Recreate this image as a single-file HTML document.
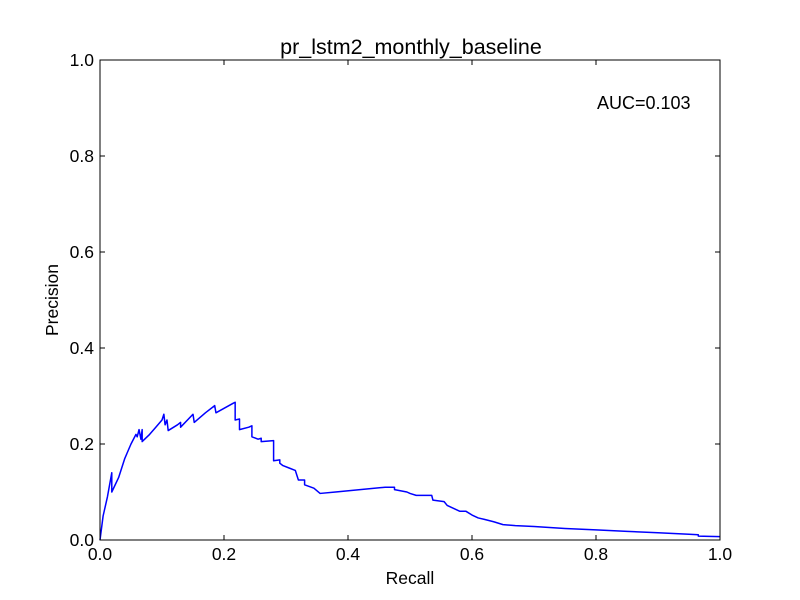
<!DOCTYPE html>
<html><head><meta charset="utf-8"><style>body{margin:0;background:#fff}svg{display:block}text{font-family:"Liberation Sans",sans-serif}</style></head>
<body>
<svg id="chart" width="800" height="600" xmlns="http://www.w3.org/2000/svg">
<rect width="800" height="600" fill="#fff"/>
<text x="411" y="54" font-size="21.5" text-anchor="middle">pr_lstm2_monthly_baseline</text>
<g id="axes"></g>
<text x="410" y="584" font-size="17.5" text-anchor="middle">Recall</text>
<text x="58" y="300" font-size="17.5" text-anchor="middle" transform="rotate(-90 58 300)">Precision</text>
<text x="597" y="109" font-size="18">AUC=0.103</text>
</svg>
<script>
const recall=[0,0.005,0.012,0.019,0.019,0.03,0.04,0.05,0.058,0.06,0.063,0.066,0.068,0.068,0.08,0.09,0.10,0.103,0.105,0.108,0.11,0.125,0.13,0.13,0.15,0.152,0.17,0.185,0.187,0.215,0.218,0.218,0.225,0.225,0.24,0.245,0.245,0.255,0.26,0.26,0.28,0.28,0.29,0.29,0.295,0.305,0.315,0.32,0.33,0.33,0.345,0.355,0.38,0.46,0.475,0.475,0.495,0.5,0.51,0.535,0.537,0.555,0.56,0.57,0.58,0.59,0.60,0.61,0.62,0.635,0.65,0.67,0.70,0.75,0.80,0.85,0.90,0.95,0.965,0.965,1.0];
const precision=[0,0.05,0.09,0.14,0.10,0.13,0.17,0.20,0.22,0.215,0.23,0.21,0.23,0.205,0.22,0.235,0.25,0.262,0.24,0.25,0.228,0.24,0.245,0.235,0.262,0.245,0.265,0.28,0.265,0.285,0.287,0.25,0.252,0.23,0.235,0.238,0.215,0.21,0.212,0.205,0.207,0.165,0.167,0.16,0.155,0.15,0.145,0.125,0.125,0.115,0.108,0.097,0.1,0.11,0.11,0.105,0.10,0.097,0.093,0.093,0.083,0.08,0.072,0.066,0.06,0.06,0.052,0.046,0.043,0.038,0.032,0.03,0.028,0.024,0.021,0.018,0.015,0.012,0.011,0.008,0.007];
const xTicks=["0.0","0.2","0.4","0.6","0.8","1.0"];
const yTicks=["0.0","0.2","0.4","0.6","0.8","1.0"];
const L=100,R=720,T=60,B=540;
const sx=v=>L+v*(R-L), sy=v=>B-v*(B-T);
const NS="http://www.w3.org/2000/svg";
const g=document.getElementById('axes');
function mk(t,a){const e=document.createElementNS(NS,t);for(const k in a)e.setAttribute(k,a[k]);return e;}
const curve=mk('polyline',{points:recall.map((r,i)=>sx(r)+','+sy(precision[i])).join(' '),fill:'none',stroke:'#0000ff','stroke-width':1.5,'stroke-linejoin':'round'});


g.appendChild(curve);
const frame=mk('rect',{x:L,y:T,width:R-L,height:B-T,fill:'none',stroke:'#000','stroke-width':1});


g.appendChild(frame);
xTicks.forEach(s=>{const x=sx(parseFloat(s));
 g.appendChild(mk('line',{x1:x,y1:B,x2:x,y2:B-5,stroke:'#000'}));
 g.appendChild(mk('line',{x1:x,y1:T,x2:x,y2:T+5,stroke:'#000'}));
 const t=mk('text',{x:x,y:B+20,'font-size':17.5,'text-anchor':'middle'});t.textContent=s;
 
 
 g.appendChild(t);});
yTicks.forEach(s=>{const y=sy(parseFloat(s));
 g.appendChild(mk('line',{x1:L,y1:y,x2:L+5,y2:y,stroke:'#000'}));
 g.appendChild(mk('line',{x1:R,y1:y,x2:R-5,y2:y,stroke:'#000'}));
 const t=mk('text',{x:L-6,y:y+6,'font-size':17.5,'text-anchor':'end'});t.textContent=s;
 
 
 g.appendChild(t);});
</script>
</body></html>
